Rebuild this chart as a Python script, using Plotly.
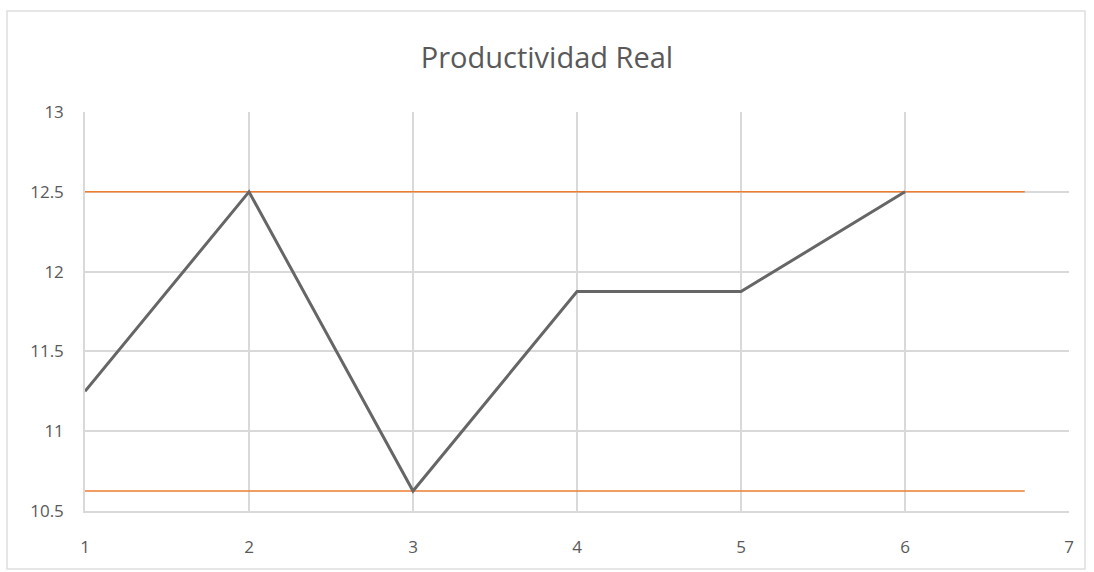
import plotly.graph_objects as go

# Productivity readings per period
periods = [1, 2, 3, 4, 5, 6]
productividad = [11.25, 12.5, 10.625, 11.875, 11.875, 12.5]

# Control limits drawn as horizontal reference lines
limit_span = [1, 6.73]
limite_superior = 12.5
limite_inferior = 10.625

x_ticks = [1, 2, 3, 4, 5, 6, 7]
y_ticks = [10.5, 11, 11.5, 12, 12.5, 13]

grey_text = "#595959"
grid = "#d9d9d9"
orange = "#ED7D31"

fig = go.Figure()

for lvl in (limite_superior, limite_inferior):
    fig.add_trace(go.Scatter(
        x=limit_span, y=[lvl, lvl], mode="lines",
        line=dict(color=orange, width=1.5), hoverinfo="skip", showlegend=False,
    ))

fig.add_trace(go.Scatter(
    x=periods, y=productividad, mode="lines",
    line=dict(color="#666666", width=3), showlegend=False,
))

fig.update_layout(
    width=1094, height=572,
    margin=dict(l=85, r=25, t=112, b=61),
    paper_bgcolor="white", plot_bgcolor="white",
    font=dict(family="Open Sans, Liberation Sans, sans-serif", color=grey_text, size=17),
    title=dict(text="Productividad Real", x=0.5, xanchor="center",
               y=1 - 58 / 572, yanchor="middle",
               font=dict(size=29, color=grey_text)),
    shapes=[dict(type="rect", xref="paper", yref="paper",
                 x0=-78 / 984, x1=1 + 16 / 984, y0=-58 / 399, y1=1 + 101 / 399,
                 line=dict(color="#dedede", width=1.5), fillcolor="rgba(0,0,0,0)",
                 layer="below")],
)

fig.update_xaxes(
    range=[1, 7], tickvals=x_ticks, showgrid=True, gridcolor=grid, gridwidth=1.5,
    zeroline=False, showline=True, linecolor=grid, linewidth=2, mirror=False,
    ticks="outside", ticklen=20, tickcolor="rgba(0,0,0,0)",
)
fig.update_yaxes(
    range=[10.5, 13], tickvals=y_ticks, showgrid=True, gridcolor=grid, gridwidth=1.5,
    zeroline=False, showline=True, linecolor=grid, linewidth=1.5,
    ticks="outside", ticklen=16, tickcolor="rgba(0,0,0,0)",
)

fig.write_html("out.html")
